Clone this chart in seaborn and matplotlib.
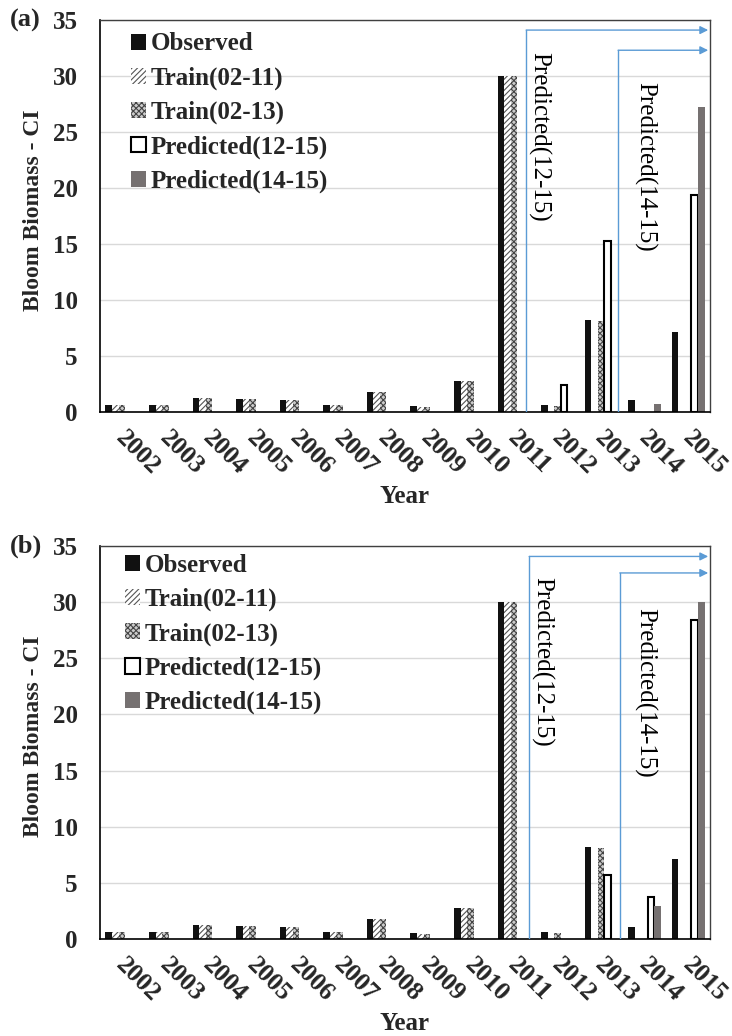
import numpy as np
import pandas as pd
import matplotlib
matplotlib.use("Agg")
import matplotlib.pyplot as plt
import matplotlib.patches as mpatches
import matplotlib.transforms as mtransforms
import seaborn as sns

# ---------------- data ----------------
years = ["2002", "2003", "2004", "2005", "2006", "2007", "2008",
         "2009", "2010", "2011", "2012", "2013", "2014", "2015"]
series = ["Observed", "Train(02-11)", "Train(02-13)", "Predicted(12-15)", "Predicted(14-15)"]
nan = np.nan

observed = [0.63, 0.62, 1.25, 1.17, 1.05, 0.65, 1.82, 0.55, 2.77, 30.0, 0.59, 8.2, 1.1, 7.1]
train_02_11 = [0.62, 0.60, 1.23, 1.15, 1.03, 0.64, 1.80, 0.48, 2.75, 30.0, nan, nan, nan, nan]
train_02_13 = [0.62, 0.60, 1.23, 1.15, 1.03, 0.64, 1.80, 0.48, 2.75, 30.0, 0.5, 8.1, nan, nan]

pred_12_15_a = [nan, nan, nan, nan, nan, nan, nan, nan, nan, nan, 2.4, 15.25, nan, 19.4]
pred_14_15_a = [nan, nan, nan, nan, nan, nan, nan, nan, nan, nan, nan, nan, 0.75, 27.2]

pred_12_15_b = [nan, nan, nan, nan, nan, nan, nan, nan, nan, nan, nan, 5.7, 3.7, 28.4]
pred_14_15_b = [nan, nan, nan, nan, nan, nan, nan, nan, nan, nan, nan, nan, 2.9, 30.0]

y_ticks = [0, 5, 10, 15, 20, 25, 30, 35]
panel_labels = ["(a)", "(b)"]

# ---------------- style ----------------
sns.set_theme(style="white")
plt.rcParams["font.family"] = ["Liberation Serif", "DejaVu Serif"]
plt.rcParams["hatch.linewidth"] = 0.8

colors = {
    "Observed": "#111111",
    "Train(02-11)": "#ffffff",
    "Train(02-13)": "#b8b8b8",
    "Predicted(12-15)": "#ffffff",
    "Predicted(14-15)": "#767171",
}
styles = {
    "Observed": dict(facecolor="#111111", edgecolor="#111111", linewidth=0, hatch=None),
    "Train(02-11)": dict(facecolor="#ffffff", edgecolor="#555555", linewidth=0, hatch="//////"),
    "Train(02-13)": dict(facecolor="#cccccc", edgecolor="#444444", linewidth=0, hatch="xxxxxx"),
    "Predicted(12-15)": dict(facecolor="#ffffff", edgecolor="#000000", linewidth=1.5, hatch=None),
    "Predicted(14-15)": dict(facecolor="#767171", edgecolor="#767171", linewidth=0, hatch=None),
}
arrow_blue = "#5B9BD5"


def make_df(pred1215, pred1415):
    cols = [observed, train_02_11, train_02_13, pred1215, pred1415]
    rows = []
    for name, vals in zip(series, cols):
        for yr, v in zip(years, vals):
            if not np.isnan(v):
                rows.append({"Year": yr, "series": name, "value": v})
    return pd.DataFrame(rows)


fig = plt.figure(figsize=(7.32, 10.36), dpi=100)
W, H = 732, 1036
ax_a = fig.add_axes([100 / W, 1 - 412 / H, 610 / W, 392 / H])
ax_b = fig.add_axes([100 / W, 1 - 939 / H, 610 / W, 393 / H])

panels = [
    (ax_a, make_df(pred_12_15_a, pred_14_15_a),
     dict(arrows=[(9.28, 34.1), (11.39, 32.3)], texts=[(9.58, 24.6), (12.0, 21.9)],
          legend_anchor=(0.03, 1.0))),
    (ax_b, make_df(pred_12_15_b, pred_14_15_b),
     dict(arrows=[(9.35, 34.07), (11.43, 32.6)], texts=[(9.65, 24.7), (12.0, 21.9)],
          legend_anchor=(0.02, 1.012))),
]

offset = mtransforms.ScaledTranslation(6 / 100, 0, fig.dpi_scale_trans)

for (ax, df, ann), plab in zip(panels, panel_labels):
    sns.barplot(data=df, x="Year", y="value", hue="series", order=years,
                hue_order=series, palette=colors, width=0.75, saturation=1,
                errorbar=None, legend=False, ax=ax)
    # restyle each series' bars
    for name, cont in zip(series, ax.containers):
        st = styles[name]
        for p in cont.patches:
            p.set_facecolor(st["facecolor"])
            p.set_edgecolor(st["edgecolor"])
            p.set_linewidth(st["linewidth"])
            if st["hatch"]:
                p.set_hatch(st["hatch"])

    ax.set_xlim(-0.5, 13.5)
    ax.set_ylim(0, 35)
    ax.set_yticks(y_ticks)
    ax.set_yticklabels([str(t) for t in y_ticks], fontsize=18, fontweight="bold")
    ax.tick_params(axis="y", length=0, pad=16)
    ax.tick_params(axis="x", length=0, pad=10)
    for lbl in ax.get_xticklabels():
        lbl.set_rotation(-45)
        lbl.set_ha("left")
        lbl.set_va("top")
        lbl.set_rotation_mode("anchor")
        lbl.set_fontsize(18.5)
        lbl.set_fontweight("bold")
        lbl.set_transform(lbl.get_transform() + offset)

    ax.yaxis.grid(True, color="#d9d9d9", linewidth=1)
    ax.xaxis.grid(False)
    ax.set_axisbelow(True)
    for side in ["left", "bottom"]:
        ax.spines[side].set_color("#000000")
        ax.spines[side].set_linewidth(1.2)
    for side in ["top", "right"]:
        ax.spines[side].set_color("#404040")
        ax.spines[side].set_linewidth(1.0)

    ax.set_xlabel("Year", fontsize=18, fontweight="bold")
    ax.xaxis.set_label_coords(0.5, -0.185)
    ax.set_ylabel("Bloom Biomass - CI", fontsize=17, fontweight="bold")
    ax.yaxis.set_label_coords(-0.091, 0.515)

    # arrows marking prediction periods
    for (x0, ytop) in ann["arrows"]:
        ax.plot([x0, x0], [0, ytop], color=arrow_blue, lw=1, zorder=3)
        ax.annotate("", xy=(0.997, ytop), xycoords=("axes fraction", "data"),
                    xytext=(x0, ytop), textcoords="data",
                    arrowprops=dict(arrowstyle="-|>", color=arrow_blue, lw=1,
                                    mutation_scale=12, shrinkA=0, shrinkB=0),
                    zorder=3)
    for (tx, ty), txt in zip(ann["texts"], ["Predicted(12-15)", "Predicted(14-15)"]):
        ax.text(tx, ty, txt, rotation=270, ha="center", va="center",
                fontsize=18, color="#000000")

    handles = []
    for name in series:
        st = styles[name]
        handles.append(mpatches.Patch(facecolor=st["facecolor"], edgecolor=st["edgecolor"],
                                      linewidth=st["linewidth"] if st["linewidth"] else 0,
                                      hatch=st["hatch"], label=name))
    ax.legend(handles=handles, loc="upper left", bbox_to_anchor=ann["legend_anchor"],
              frameon=False, prop=dict(size=18, weight="bold"),
              handlelength=0.6, handleheight=0.6, handletextpad=0.2,
              labelspacing=0.44, borderaxespad=0.2, borderpad=0.3)

fig.text(10 / W, 1 - 20 / H, panel_labels[0], fontsize=19, fontweight="bold",
         ha="left", va="center")
fig.text(10 / W, 1 - 546 / H, panel_labels[1], fontsize=19, fontweight="bold",
         ha="left", va="center")

fig.savefig("out.png", dpi=100)
